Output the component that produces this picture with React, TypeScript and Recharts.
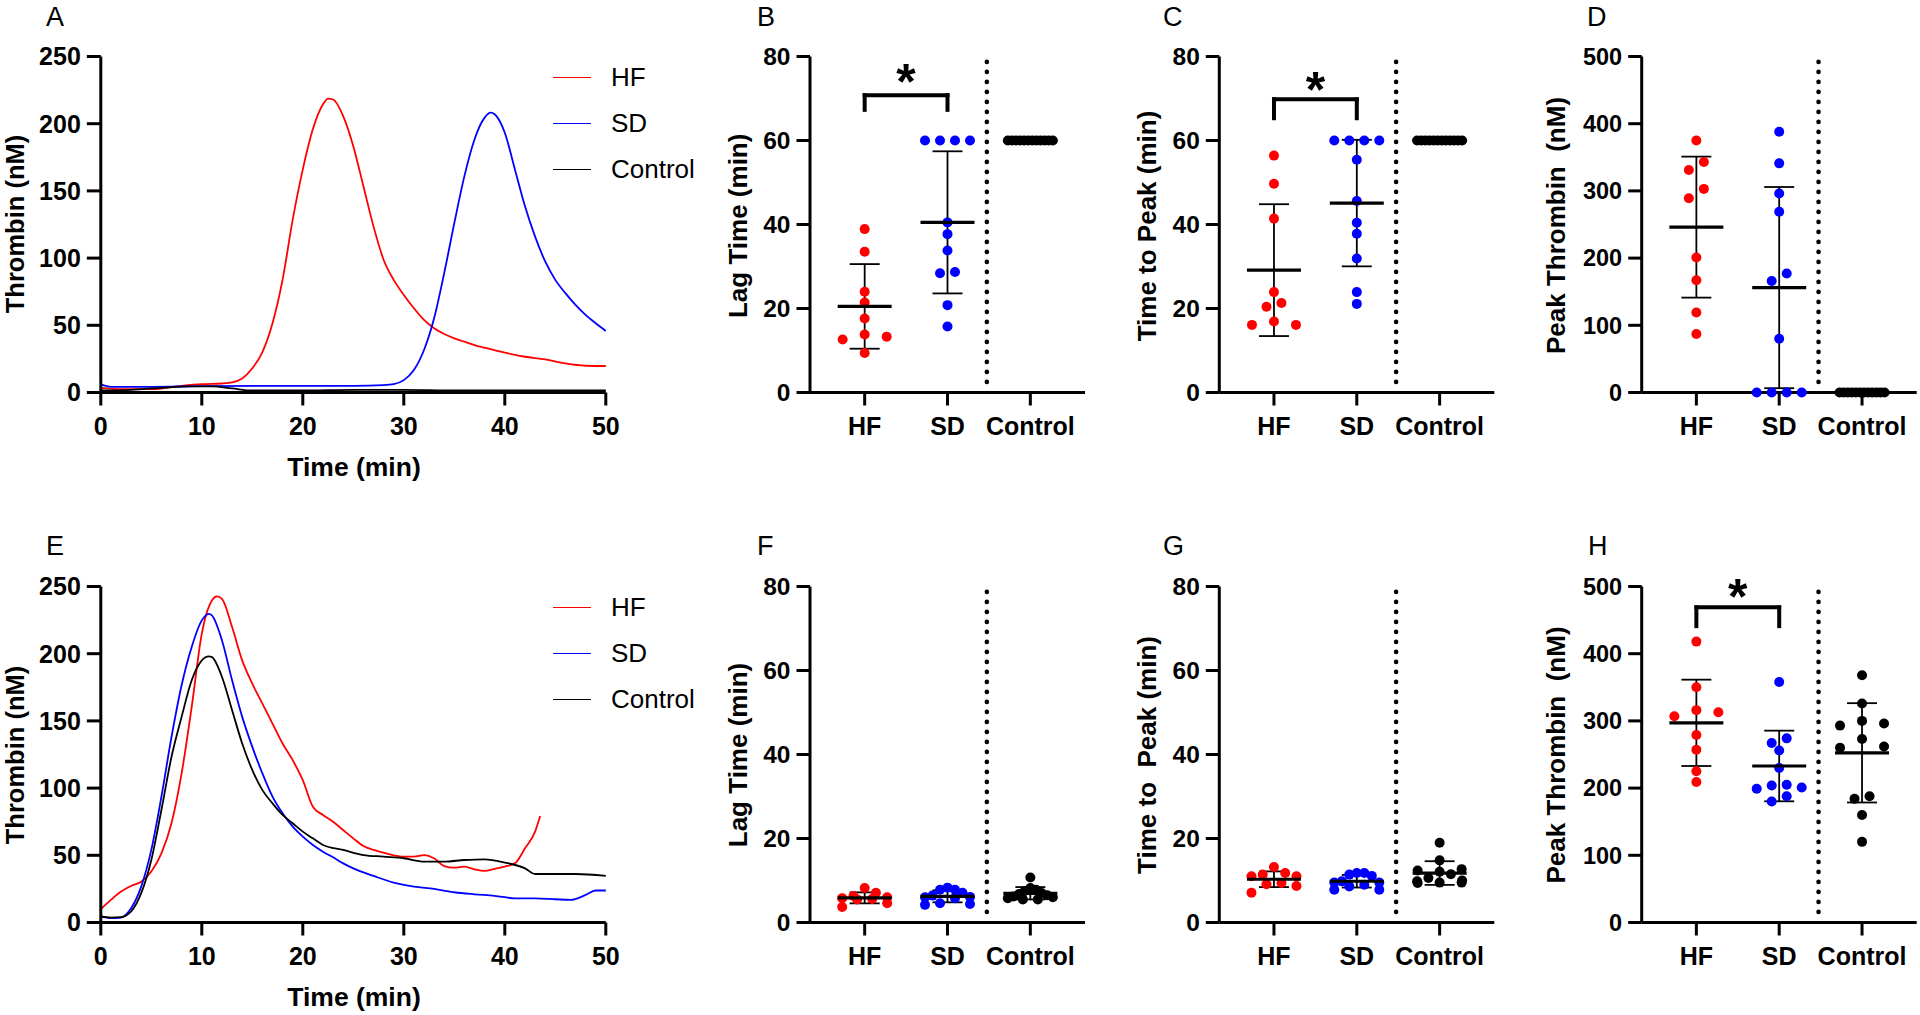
import React from 'react';
import {
  LineChart, Line, ScatterChart, Scatter, XAxis, YAxis, ErrorBar,
  ReferenceLine, ReferenceDot, Legend,
} from 'recharts';

const FONT = '"Liberation Sans", Arial, Helvetica, sans-serif';
const GROUPS = ['HF', 'SD', 'Control'];
const COLORS = ['#ff0000', '#0000ff', '#000000'];

// thrombin generation curves: [time (min), thrombin (nM)]
const A_HF = [
  [0, 3.5], [2, 2.5], [5, 2.5], [8, 5], [10, 6.2], [12, 6.7], [13, 7.5], [14, 10.4], [15, 18],
  [16, 30], [17, 51.5], [18, 84], [19, 128.6], [20, 166], [21, 196], [22, 214.4], [22.5, 218.7],
  [23, 218], [24, 205.7], [25, 183.3], [26, 153.5], [27, 123.6], [28, 98.8], [29, 83.8],
  [30, 72.6], [31, 62.7], [32, 54], [33, 47.8], [34, 43.5], [35, 40.3], [36, 37.8], [37, 35.3],
  [38, 33.3], [40, 29.6], [42, 26.6], [44, 24.6], [46, 21.6], [48, 19.9], [50, 19.7],
];
const A_SD = [
  [0, 6], [1, 4.2], [5, 4.2], [10, 4.7], [20, 5], [25, 5], [28, 5.5], [29, 6.2], [30, 9.2],
  [31, 16.7], [32, 31.6], [33, 55.2], [34, 88.8], [35, 126], [36, 161], [37, 188.3], [38, 204.5],
  [38.6, 208.2], [39, 207], [40, 193.3], [41, 166], [42, 138.6], [43, 116], [44, 97.5],
  [45, 83.8], [46, 73.9], [47, 65.2], [48, 57.7], [49, 51.5], [50, 45.8],
];
const A_CTRL = [
  [0, 1.5], [3, 2], [6, 3.5], [9, 4.5], [11, 4.5], [13, 3], [15, 1.5], [20, 1.5], [25, 2],
  [30, 2], [35, 1.5], [40, 1.5], [45, 1.5], [50, 1.5],
];
const E_HF = [
  [0, 9.9], [1, 16.8], [2, 23], [3, 27.2], [4, 30.4], [5, 37.9], [6, 51.5], [7, 73.8], [8, 110.9],
  [9, 160.4], [10, 214.9], [11, 239.6], [11.5, 242.6], [12, 240.8], [13, 219.8], [14, 195],
  [15, 177.7], [16, 162.9], [17, 148], [18, 133.2], [19, 120.8], [20, 105.9], [21, 86.1],
  [22, 80], [23, 75], [24, 68.8], [25, 62.6], [26, 56.9], [27, 54], [28, 52], [29, 50], [30, 49],
  [31, 49], [32, 50.2], [33, 47.8], [34, 42], [35, 40.8], [36, 41.6], [37, 39.6], [38, 38.4],
  [39, 39.9], [40, 41.6], [41, 44], [42, 55.2], [43, 67.6], [43.5, 79.2],
];
const E_SD = [
  [0, 4.5], [1, 3.2], [2, 3.7], [3, 10.6], [4, 26.7], [5, 54], [6, 93.6], [7, 138], [8, 176.5],
  [9, 205], [10, 224.8], [10.7, 229.7], [11, 228.5], [12, 209.9], [13, 180.2], [14, 153],
  [15, 130.7], [16, 110.9], [17, 93.6], [18, 81.2], [19, 71.3], [20, 63.9], [21, 57.7],
  [22, 52.7], [23, 48.5], [24, 44], [25, 40.3], [27, 34.7], [29, 29.7], [31, 26.7], [33, 25],
  [35, 22.5], [37, 21], [39, 19.8], [41, 18], [43, 18], [45, 17.3], [46.5, 16.8], [48, 20.5],
  [49, 23.8], [50, 23.8],
];
const E_CTRL = [
  [0, 4.5], [1, 3.7], [2, 4], [3, 8.2], [4, 21.8], [5, 46.5], [6, 83.7], [7, 123.3], [8, 153],
  [9, 180.2], [10, 195], [10.7, 198], [11, 197.5], [12, 182.7], [13, 157.9], [14, 133.2],
  [15, 113.4], [16, 98.5], [17, 88.6], [18, 80], [19, 73.8], [20, 67.6], [21, 62.6], [22, 57.7],
  [24, 54], [26, 50.2], [28, 49], [30, 47.8], [32, 45.3], [34, 45.3], [36, 46.5], [38, 47],
  [40, 44.6], [42, 40.3], [43, 36.1], [45, 36.1], [47, 36.1], [50, 34.7],
];

const TIME_TICKS = [0, 10, 20, 30, 40, 50];
const THROMBIN_TICKS = [0, 50, 100, 150, 200, 250];
const MIN_TICKS = [0, 20, 40, 60, 80];
const PEAK_TICKS = [0, 100, 200, 300, 400, 500];

// per-animal values
const B_HF = [38.9, 33.5, 24.0, 21.4, 17.6, 13.8, 13.3, 12.6, 9.4];
const B_SD = [60, 60, 60, 60, 40.5, 37.7, 33.8, 28.7, 28.4, 20.8, 15.7];
const B_CTRL = [60, 60, 60, 60, 60, 60, 60, 60, 60, 60, 60, 60];
const C_HF = [56.4, 49.7, 41.4, 23.9, 21.3, 20.4, 16.9, 16.1, 16.1];
const C_SD = [60, 60, 60, 60, 55.4, 45.6, 40.4, 37.8, 31.9, 23.9, 21.1];
const C_CTRL = [60, 60, 60, 60, 60, 60, 60, 60, 60, 60, 60, 60];
const D_HF = [375, 343, 331, 303, 289, 201, 167, 119, 87];
const D_SD = [388, 341, 296, 269, 177, 166, 80, 0, 0, 0, 0];
const D_CTRL = [0, 0, 0, 0, 0, 0, 0, 0, 0, 0, 0, 0];
const F_HF = [8.2, 7.1, 6.3, 6.0, 5.8, 5.6, 5.5, 4.6, 3.7];
const F_SD = [8.3, 7.8, 7.8, 7.1, 6.4, 6.1, 6.0, 5.8, 4.6, 4.4, 4.2];
const F_CTRL = [10.7, 8.2, 7.8, 7.5, 7.0, 6.8, 6.5, 6.2, 6.0, 5.8, 5.5, 5.5];
const G_HF = [13.2, 11.8, 11.4, 11.0, 11.0, 9.4, 9.1, 8.7, 7.1];
const G_SD = [11.8, 11.8, 11.4, 11.1, 9.8, 9.5, 9.5, 9.0, 8.6, 7.8, 7.8];
const G_CTRL = [19.0, 14.8, 12.7, 12.4, 12.1, 11.5, 10.6, 10.0, 9.8, 9.5, 9.5, 9.4];
const H_HF = [418, 350, 316, 313, 307, 279, 257, 225, 209];
const H_SD = [358, 274, 267, 256, 230, 205, 204, 201, 199, 188, 180];
const H_CTRL = [368, 326, 300, 296, 293, 273, 262, 260, 188, 184, 160, 120];

const W = 1920;
const H = 1015;
const PLOT_H = 336;
const X_AXIS_H = 60;
const AXIS = { stroke: '#000', strokeWidth: 3 };
const X_DOMAIN = [0.34, 3.66];
const DOT_PLOT_W = 275;
const PX_PER_GROUP = DOT_PLOT_W / (X_DOMAIN[1] - X_DOMAIN[0]);
const ROW_GAP = 10.3;

const mean = (a: number[]) => a.reduce((s, v) => s + v, 0) / a.length;
const stdev = (a: number[]) => {
  const m = mean(a);
  return Math.sqrt(a.reduce((s, v) => s + (v - m) ** 2, 0) / (a.length - 1));
};

// spread overlapping points sideways, Prism style
function swarm(values: number[], group: number, pxPerUnit: number) {
  const rows: number[][] = [];
  [...values].sort((a, b) => b - a).forEach((v) => {
    const row = rows[rows.length - 1];
    if (row && (row[0] - v) * pxPerUnit < ROW_GAP) row.push(v);
    else rows.push([v]);
  });
  const points: { x: number; y: number }[] = [];
  rows.forEach((row) => {
    const n = row.length;
    const step = n === 3 ? 22 : Math.min(15, 45 / Math.max(n - 1, 1));
    row.forEach((v, i) => {
      const slot = n % 2
        ? (i % 2 ? 1 : -1) * Math.ceil(i / 2)
        : (i % 2 ? -1 : 1) * (Math.floor(i / 2) + 0.5);
      points.push({ x: group + (slot * step) / PX_PER_GROUP, y: v });
    });
  });
  return points;
}

const numTick = (size: number) => ({ fill: '#000', fontSize: size, fontWeight: 700, fontFamily: FONT });

const CurveKey = () => (
  <div style={{ fontFamily: FONT, fontSize: 26, color: '#000' }}>
    {GROUPS.map((g, i) => (
      <div key={g} style={{ display: 'flex', alignItems: 'center', height: 46 }}>
        <span style={{ display: 'inline-block', width: 38, borderTop: `1.8px solid ${COLORS[i]}`, marginRight: 20 }} />
        <span>{g}</span>
      </div>
    ))}
  </div>
);

function CurvePanel({ left, top, curves }: { left: number; top: number; curves: number[][][] }) {
  const right = left + 505;
  return (
    <div style={{ position: 'absolute', left: 0, top: 0 }}>
      <LineChart
        width={W}
        height={H}
        margin={{ top, right: W - right, bottom: H - top - PLOT_H - X_AXIS_H, left: 0 }}
      >
        <XAxis type="number" dataKey="t" domain={[0, 50]} ticks={TIME_TICKS} interval={0}
          height={X_AXIS_H} tickSize={13} tickMargin={12} axisLine={AXIS} tickLine={AXIS} tick={numTick(25)} />
        <YAxis type="number" domain={[0, 250]} ticks={THROMBIN_TICKS} interval={0}
          width={left} tickSize={14} tickMargin={6} axisLine={AXIS} tickLine={AXIS} tick={numTick(25)} />
        {curves.map((c, i) => (
          <Line key={GROUPS[i]} name={GROUPS[i]} data={c.map(([t, v]) => ({ t, v }))} dataKey="v"
            type="monotone" stroke={COLORS[i]} strokeWidth={1.8} dot={false} isAnimationActive={false} />
        ))}
        <Legend layout="vertical" align="center" verticalAlign="middle"
          wrapperStyle={{ left: 553, top: top - 2.5, width: 200 }} content={() => <CurveKey />} />
      </LineChart>
    </div>
  );
}

type Bracket = { top: number; foot: number; star: number };

function DotPanel({ left, top, yMax, ticks, tickFont, groups, bracket }: {
  left: number; top: number; yMax: number; ticks: number[]; tickFont: number;
  groups: number[][]; bracket?: Bracket;
}) {
  const pxPerY = PLOT_H / yMax;
  const right = left + DOT_PLOT_W;
  const summary = groups.map((vals, i) => ({ x: i + 1, y: mean(vals), e: stdev(vals) }));
  return (
    <div style={{ position: 'absolute', left: 0, top: 0 }}>
      <ScatterChart
        width={W}
        height={H}
        margin={{ top, right: W - right, bottom: H - top - PLOT_H - X_AXIS_H, left: 0 }}
      >
        <XAxis type="number" dataKey="x" domain={X_DOMAIN} ticks={[1, 2, 3]} interval={0}
          tickFormatter={(v: number) => GROUPS[v - 1]} height={X_AXIS_H} tickSize={13} tickMargin={12}
          axisLine={AXIS} tickLine={AXIS} tick={numTick(25)} />
        <YAxis type="number" dataKey="y" domain={[0, yMax]} ticks={ticks} interval={0}
          width={left} tickSize={13.5} tickMargin={6} axisLine={AXIS} tickLine={AXIS} tick={numTick(tickFont)} />
        <ReferenceLine segment={[{ x: 2.475, y: yMax * 0.984 }, { x: 2.475, y: yMax * 0.02 }]}
          stroke="#000" strokeWidth={4.6} strokeDasharray="0 10" strokeLinecap="round" />
        {groups.map((vals, i) => (
          <Scatter key={GROUPS[i]} name={GROUPS[i]} data={swarm(vals, i + 1, pxPerY)} isAnimationActive={false}
            shape={(p: any) => <circle cx={p.cx} cy={p.cy} r={5} fill={COLORS[i]} />} />
        ))}
        <Scatter data={summary} isAnimationActive={false}
          shape={(p: any) => <line x1={p.cx - 27} x2={p.cx + 27} y1={p.cy} y2={p.cy} stroke="#000" strokeWidth={3.2} />}>
          <ErrorBar dataKey="e" direction="y" width={15} stroke="#000" strokeWidth={1.8} />
        </Scatter>
        {bracket && (
          <ReferenceLine segment={[{ x: 1, y: bracket.foot }, { x: 1, y: bracket.top }]}
            stroke="#000" strokeWidth={4} strokeLinecap="square" />
        )}
        {bracket && (
          <ReferenceLine segment={[{ x: 1, y: bracket.top }, { x: 2, y: bracket.top }]}
            stroke="#000" strokeWidth={4} strokeLinecap="square" />
        )}
        {bracket && (
          <ReferenceLine segment={[{ x: 2, y: bracket.top }, { x: 2, y: bracket.foot }]}
            stroke="#000" strokeWidth={4} strokeLinecap="square" />
        )}
        {bracket && (
          <ReferenceDot x={1.5} y={bracket.star} r={0} ifOverflow="visible"
            shape={(p: any) => (
              <text x={p.cx} y={p.cy} dy="0.58em" textAnchor="middle" fontFamily={FONT}
                fontWeight={700} fontSize={50} fill="#000">*</text>
            )} />
        )}
      </ScatterChart>
    </div>
  );
}

const LETTERS: [string, number, number][] = [
  ['A', 46, 26], ['B', 757, 26], ['C', 1163, 26], ['D', 1587, 26],
  ['E', 46, 555], ['F', 757, 555], ['G', 1163, 555], ['H', 1588, 555],
];
const Y_TITLES: [string, number, number][] = [
  ['Thrombin (nM)', 15, 224], ['Lag Time (min)', 737.7, 225.8],
  ['Time to Peak (min)', 1146.5, 226], ['Peak Thrombin  (nM)', 1555.5, 225.5],
  ['Thrombin (nM)', 15, 755], ['Lag Time (min)', 737.5, 755],
  ['Time to  Peak (min)', 1146.5, 755], ['Peak Thrombin  (nM)', 1555.5, 755],
];
const X_TITLES: [string, number, number][] = [['Time (min)', 354, 475.7], ['Time (min)', 354, 1005.7]];

export default function App() {
  return (
    <div style={{ position: 'absolute', left: 0, top: 0, width: W, height: H, background: '#fff', overflow: 'hidden' }}>
      <CurvePanel left={100.8} top={56.5} curves={[A_HF, A_SD, A_CTRL]} />
      <CurvePanel left={100.8} top={586.5} curves={[E_HF, E_SD, E_CTRL]} />
      <DotPanel left={810} top={56.5} yMax={80} ticks={MIN_TICKS} tickFont={24.5}
        groups={[B_HF, B_SD, B_CTRL]} bracket={{ top: 70.8, foot: 67.3, star: 76.8 }} />
      <DotPanel left={1219.3} top={56.5} yMax={80} ticks={MIN_TICKS} tickFont={24.5}
        groups={[C_HF, C_SD, C_CTRL]} bracket={{ top: 69.8, foot: 65.3, star: 75 }} />
      <DotPanel left={1641.7} top={56.5} yMax={500} ticks={PEAK_TICKS} tickFont={23.5}
        groups={[D_HF, D_SD, D_CTRL]} />
      <DotPanel left={810} top={586.5} yMax={80} ticks={MIN_TICKS} tickFont={24.5}
        groups={[F_HF, F_SD, F_CTRL]} />
      <DotPanel left={1219.3} top={586.5} yMax={80} ticks={MIN_TICKS} tickFont={24.5}
        groups={[G_HF, G_SD, G_CTRL]} />
      <DotPanel left={1641.7} top={586.5} yMax={500} ticks={PEAK_TICKS} tickFont={23.5}
        groups={[H_HF, H_SD, H_CTRL]} bracket={{ top: 469, foot: 441, star: 502 }} />
      <svg width={W} height={H} style={{ position: 'absolute', left: 0, top: 0, pointerEvents: 'none' }}>
        {LETTERS.map(([t, x, y]) => (
          <text key={t} x={x} y={y} fontFamily={FONT} fontSize={27} fill="#000">{t}</text>
        ))}
        {Y_TITLES.map(([t, x, y]) => (
          <text key={t + y} x={x} y={y} dy="0.36em" transform={`rotate(-90 ${x} ${y})`} textAnchor="middle"
            fontFamily={FONT} fontWeight={700} fontSize={t.startsWith('Thrombin') ? 25.5 : 26} fill="#000"
            style={{ whiteSpace: 'pre' }}>{t}</text>
        ))}
        {X_TITLES.map(([t, x, y]) => (
          <text key={t + y} x={x} y={y} textAnchor="middle" fontFamily={FONT} fontWeight={700}
            fontSize={26.5} fill="#000">{t}</text>
        ))}
      </svg>
    </div>
  );
}
